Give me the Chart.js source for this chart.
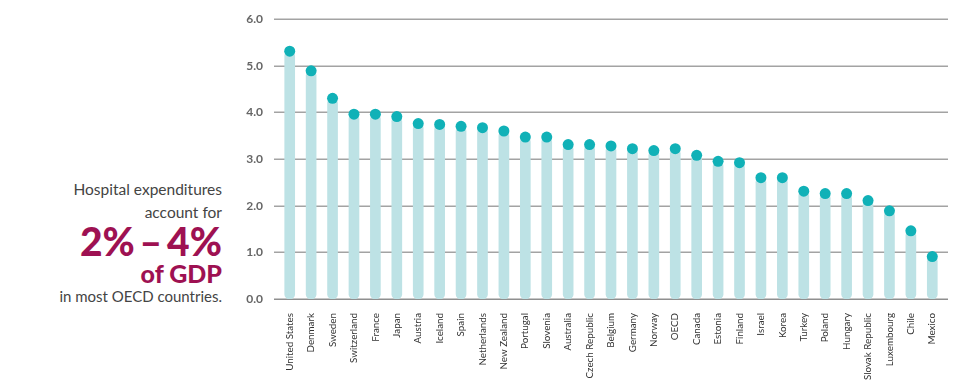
<!DOCTYPE html>
<html>
<head>
<meta charset="utf-8">
<script src="https://cdn.jsdelivr.net/npm/chart.js@4"></script>
<style>
  html, body { margin: 0; padding: 0; background: #fff; }
  body { width: 978px; height: 385px; position: relative; overflow: hidden; font-family: Lato, 'Open Sans', sans-serif; }
  #wrap { position: absolute; left: 230px; top: 0; width: 748px; height: 385px; }
  .note { position: absolute; right: 756px; text-align: right; white-space: nowrap; color: #444; line-height: 1; }
  .n1 { top: 182px; font-size: 15.5px; }
  .n2 { top: 205px; font-size: 15.5px; }
  .big { top: 222px; font-size: 39px; font-weight: 900; color: #9e1152; }
  .mid { top: 261px; font-size: 25px; font-weight: 900; color: #9e1152; }
  .n3 { top: 289px; font-size: 15px; }
</style>
</head>
<body>
<div class="note n1">Hospital expenditures</div>
<div class="note n2">account for</div>
<div class="note big">2%&thinsp;–&thinsp;4%</div>
<div class="note mid">of GDP</div>
<div class="note n3">in most OECD countries.</div>
<div id="wrap"><canvas id="c" width="748" height="385"></canvas></div>
<script>
// Hospital expenditure, % of GDP
const countries = [
  'United States', 'Denmark', 'Sweden', 'Switzerland', 'France', 'Japan', 'Austria',
  'Iceland', 'Spain', 'Netherlands', 'New Zealand', 'Portugal', 'Slovenia', 'Australia',
  'Czech Republic', 'Belgium', 'Germany', 'Norway', 'OECD', 'Canada', 'Estonia',
  'Finland', 'Israel', 'Korea', 'Turkey', 'Poland', 'Hungary', 'Slovak Republic',
  'Luxembourg', 'Chile', 'Mexico'
];
const shareOfGdp = [
  5.31, 4.89, 4.30, 3.96, 3.96, 3.91, 3.76,
  3.74, 3.70, 3.67, 3.60, 3.47, 3.47, 3.31,
  3.31, 3.28, 3.22, 3.18, 3.22, 3.08, 2.95,
  2.92, 2.60, 2.60, 2.31, 2.26, 2.26, 2.11,
  1.89, 1.46, 0.91
];
const yTicks = [0, 1, 2, 3, 4, 5, 6];

const BAR  = '#bde2e5';
const DOT  = '#10b1b7';
const GRID = '#a3a3a3';

// grid lines run a little past the category band on both sides
const wideGrid = {
  id: 'wideGrid',
  beforeDatasetsDraw(chart) {
    const { ctx, chartArea, scales } = chart;
    ctx.save();
    ctx.lineWidth = 1.5;
    yTicks.forEach(v => {
      const y = Math.round(scales.y.getPixelForValue(v)) + 0.25;
      ctx.strokeStyle = v === 0 ? '#8f8f8f' : GRID;
      ctx.beginPath();
      ctx.moveTo(chartArea.left - 5, y);
      ctx.lineTo(chartArea.right + 5, y);
      ctx.stroke();
    });
    ctx.restore();
  }
};

new Chart(document.getElementById('c'), {
  data: {
    labels: countries,
    datasets: [
      {
        type: 'line',
        data: shareOfGdp,
        showLine: false,
        pointRadius: 5.5,
        pointBackgroundColor: DOT,
        pointBorderWidth: 0,
        order: 0,
      },
      {
        type: 'bar',
        data: shareOfGdp,
        backgroundColor: BAR,
        barThickness: 10,
        borderRadius: 5,
        borderSkipped: false,
        order: 1,
      },
    ],
  },
  plugins: [wideGrid],
  options: {
    responsive: false,
    animation: false,
    layout: { padding: { top: 19, right: 35, left: 0, bottom: 0 } },
    plugins: { legend: { display: false }, tooltip: { enabled: false } },
    scales: {
      x: {
        grid: { display: false },
        border: { display: false },
        afterFit: s => { s.height = 86; },
        ticks: {
          autoSkip: false,
          minRotation: 90,
          maxRotation: 90,
          padding: 6,
          color: '#333',
          font: { family: 'Lato', size: 9.8 },
        },
      },
      y: {
        min: 0,
        max: 6,
        afterFit: s => { s.width = 49; },
        afterBuildTicks: s => { s.ticks = yTicks.map(v => ({ value: v })); },
        grid: { display: false },
        border: { display: false },
        ticks: {
          padding: 8,
          color: '#666',
          font: { family: 'Lato', size: 12, weight: 'bold' },
          callback: v => v.toFixed(1),
        },
      },
    },
  },
});
</script>
</body>
</html>
